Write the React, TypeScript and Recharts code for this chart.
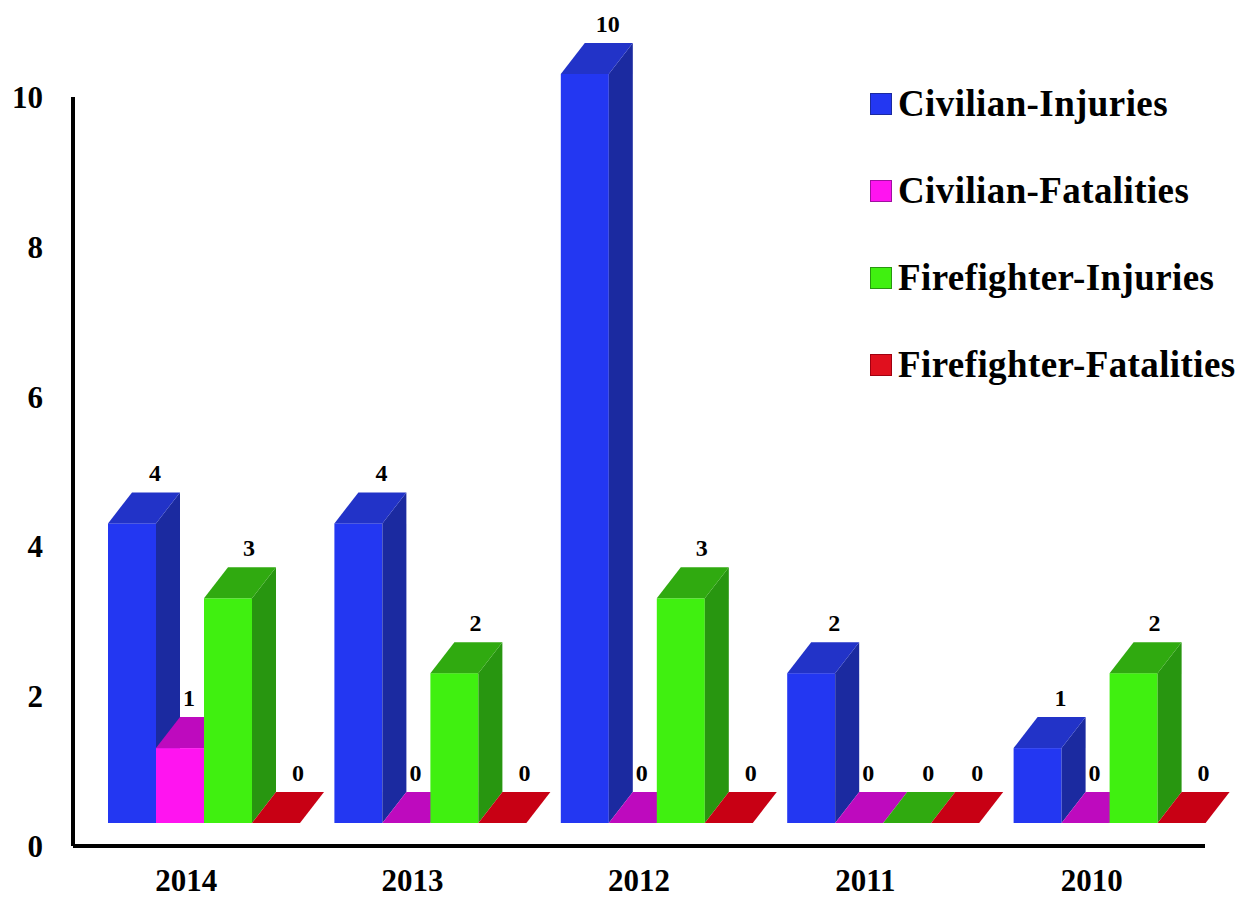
import { Bar, BarChart, Legend, XAxis, YAxis } from 'recharts'

const years = ['2014', '2013', '2012', '2011', '2010']
const civilianInjuries = [4, 4, 10, 2, 1]
const civilianFatalities = [1, 0, 0, 0, 0]
const firefighterInjuries = [3, 2, 3, 0, 2]
const firefighterFatalities = [0, 0, 0, 0, 0]
const yTicks = [0, 2, 4, 6, 8, 10]

const seriesNames = ['Civilian-Injuries', 'Civilian-Fatalities', 'Firefighter-Injuries', 'Firefighter-Fatalities']

// front / top / side shades for the fake 3D boxes, plus label nudge
const palette = [
  { front: '#2337f2', top: '#2233c8', side: '#1b2aa0', labelDx: 23 },
  { front: '#ff14f0', top: '#be0abe', side: '#a010a0', labelDx: 9 },
  { front: '#40f010', top: '#30aa10', side: '#289610', labelDx: 21 },
  { front: '#e0101e', top: '#c80014', side: '#a00010', labelDx: 22 },
]

const data = years.map((year, i) => ({
  year,
  s0: civilianInjuries[i],
  s1: civilianFatalities[i],
  s2: firefighterInjuries[i],
  s3: firefighterFatalities[i],
}))

const FONT = '"Liberation Serif", "Times New Roman", serif'
const DX = 24
const DY = 31
const SHIFT_X = 18
const SHIFT_Y = -23

function Box3D(props: any) {
  const { x, y, width, height, payload, dataKey, colors } = props
  const fx = x + SHIFT_X
  const fy = y + SHIFT_Y
  const w = width
  const h = Math.max(height, 0)
  const value = payload[dataKey]
  const top = `${fx},${fy} ${fx + w},${fy} ${fx + w + DX},${fy - DY} ${fx + DX},${fy - DY}`
  const side = `${fx + w},${fy} ${fx + w + DX},${fy - DY} ${fx + w + DX},${fy + h - DY} ${fx + w},${fy + h}`
  return (
    <g>
      {h > 0 && <rect x={fx} y={fy} width={w} height={h} fill={colors.front} />}
      {h > 0 && <polygon points={side} fill={colors.side} />}
      <polygon points={top} fill={colors.top} />
      <text
        x={fx + w / 2 + colors.labelDx}
        y={fy - DY - 11}
        textAnchor="middle"
        fill="#000"
        fontSize={24}
        fontWeight="bold"
        fontFamily={FONT}
      >
        {value}
      </text>
    </g>
  )
}

function LegendBox() {
  return (
    <div style={{ fontFamily: FONT, fontWeight: 'bold', fontSize: 37, letterSpacing: 0.4, color: '#000' }}>
      {seriesNames.map((name, i) => (
        <div key={name} style={{ height: 87, display: 'flex', alignItems: 'center' }}>
          <span
            style={{
              width: 20,
              height: 20,
              background: palette[i].front,
              border: `1px solid ${palette[i].side}`,
              marginRight: 6,
              display: 'inline-block',
            }}
          />
          <span style={{ whiteSpace: 'nowrap' }}>{name}</span>
        </div>
      ))}
    </div>
  )
}

export default function App() {
  const tick = { fill: '#000', fontSize: 31, fontWeight: 'bold', fontFamily: FONT }
  return (
    <div style={{ width: 1245, height: 901, background: '#fff', position: 'relative' }}>
      <style>{'body{margin:0}'}</style>
      <BarChart
        width={1245}
        height={901}
        data={data}
        margin={{ top: 97, right: 40, left: 0, bottom: 0 }}
        barSize={48}
        barGap={0}
      >
        <XAxis
          dataKey="year"
          height={55}
          tick={tick}
          tickLine={false}
          tickSize={0}
          tickMargin={23}
          axisLine={{ stroke: '#000', strokeWidth: 4 }}
        />
        <YAxis
          width={73}
          domain={[0, 10]}
          ticks={yTicks}
          tick={tick}
          tickLine={false}
          tickSize={0}
          tickMargin={30}
          axisLine={{ stroke: '#000', strokeWidth: 4 }}
        />
        <Legend
          layout="vertical"
          align="center"
          verticalAlign="middle"
          content={<LegendBox />}
          wrapperStyle={{ left: 870, top: 60, width: 375 }}
        />
        {['s0', 's1', 's2', 's3'].map((key, i) => (
          <Bar
            key={key}
            dataKey={key}
            name={seriesNames[i]}
            fill={palette[i].front}
            isAnimationActive={false}
            shape={(p: any) => <Box3D {...p} dataKey={key} colors={palette[i]} />}
          />
        ))}
      </BarChart>
    </div>
  )
}
